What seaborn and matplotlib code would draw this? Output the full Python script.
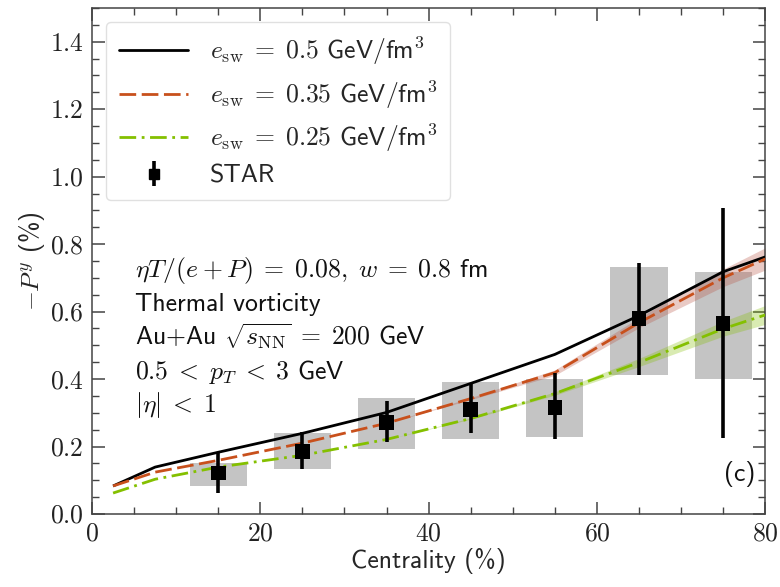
import numpy as np
import pandas as pd
import matplotlib
matplotlib.use("Agg")
import matplotlib.pyplot as plt
from matplotlib.ticker import MultipleLocator, FuncFormatter
from matplotlib.patches import Rectangle
from matplotlib.lines import Line2D
import seaborn as sns

# ---- hydro model curves: -P^y (%) vs centrality (%) ----
cent_model = [2.5, 7.5, 15, 25, 35, 45, 55, 65, 75, 80]
py_e050 = [0.083, 0.139, 0.183, 0.239, 0.301, 0.387, 0.473, 0.588, 0.718, 0.762]
py_e035 = [0.083, 0.124, 0.159, 0.210, 0.269, 0.342, 0.419, 0.567, 0.700, 0.756]
py_e025 = [0.062, 0.103, 0.139, 0.174, 0.221, 0.283, 0.357, 0.449, 0.549, 0.590]
err_e035 = [0.0, 0.0, 0.0, 0.0, 0.0, 0.003, 0.008, 0.015, 0.026, 0.033]
err_e025 = [0.0, 0.0, 0.0, 0.0, 0.0, 0.002, 0.005, 0.012, 0.022, 0.028]

# ---- STAR measurement ----
cent_star = [15, 25, 35, 45, 55, 65, 75]
py_star = [0.121, 0.186, 0.272, 0.310, 0.316, 0.579, 0.564]
stat_lo = [0.062, 0.133, 0.213, 0.239, 0.221, 0.413, 0.224]
stat_hi = [0.180, 0.242, 0.334, 0.387, 0.419, 0.744, 0.907]
sys_lo = [0.083, 0.133, 0.192, 0.222, 0.227, 0.413, 0.400]
sys_hi = [0.150, 0.239, 0.345, 0.390, 0.400, 0.732, 0.718]
sys_halfwidth = 3.4

labels = [r"$e_{\rm sw}\;=\;0.5$ GeV/fm$^3$",
          r"$e_{\rm sw}\;=\;0.35$ GeV/fm$^3$",
          r"$e_{\rm sw}\;=\;0.25$ GeV/fm$^3$"]
colors = ["#000000", "#c8501c", "#84c000"]

sns.set_theme(style="ticks")
plt.rcParams["mathtext.fontset"] = "cm"
plt.rcParams["font.family"] = ["cmss10"]
plt.rcParams["axes.unicode_minus"] = False

FS = 18.5
fig = plt.figure(figsize=(7.8, 5.87), dpi=100)
ax = fig.add_axes([0.118, 0.1244, 0.863, 0.862])

model = pd.DataFrame({
    "cent": cent_model * 3,
    "py": py_e050 + py_e035 + py_e025,
    "model": labels[0:1] * 10 + labels[1:2] * 10 + labels[2:3] * 10,
})

# systematic boxes
for x, lo, hi in zip(cent_star, sys_lo, sys_hi):
    ax.add_patch(Rectangle((x - sys_halfwidth, lo), 2 * sys_halfwidth, hi - lo,
                           facecolor="#c4c4c4", edgecolor="none", zorder=1))

# uncertainty bands on the model curves
c = np.array(cent_model)
ax.fill_between(c, np.array(py_e035) - err_e035, np.array(py_e035) + err_e035,
                color="#b85040", alpha=0.3, lw=0, zorder=2)
ax.fill_between(c, np.array(py_e025) - err_e025, np.array(py_e025) + err_e025,
                color="#84c000", alpha=0.3, lw=0, zorder=2)

sns.lineplot(data=model, x="cent", y="py", hue="model", style="model",
             hue_order=labels, style_order=labels, palette=colors,
             dashes=[(1, 0), (6, 2), (6, 2, 1, 2)], linewidth=2.0,
             ax=ax, legend=False, zorder=3)

# STAR points with statistical error bars
yerr = [np.array(py_star) - np.array(stat_lo), np.array(stat_hi) - np.array(py_star)]
ax.errorbar(cent_star, py_star, yerr=yerr, fmt="none", ecolor="black",
            elinewidth=2.6, capsize=0, zorder=4)
sns.scatterplot(x=cent_star, y=py_star, marker="s", s=110, color="black",
                edgecolor="none", ax=ax, zorder=5)

ax.set_xlim(0, 80)
ax.set_ylim(0, 1.5)
ax.xaxis.set_major_locator(MultipleLocator(20))
ax.xaxis.set_minor_locator(MultipleLocator(5))
ax.yaxis.set_major_locator(MultipleLocator(0.2))
ax.yaxis.set_minor_locator(MultipleLocator(0.05))
ax.xaxis.set_major_formatter(FuncFormatter(lambda v, p: rf"${v:.0f}$"))
ax.yaxis.set_major_formatter(FuncFormatter(lambda v, p: rf"${v:.1f}$"))
ax.tick_params(which="both", direction="in", top=True, right=True,
               color="#444444", labelsize=FS, labelcolor="#222222", pad=6)
ax.tick_params(which="major", length=9, width=1.1)
ax.tick_params(which="minor", length=5, width=1.0)
for s in ax.spines.values():
    s.set_color("#444444")
    s.set_linewidth(1.1)

ax.set_xlabel("Centrality (%)", fontsize=FS, labelpad=2)
ax.set_ylabel(r"$-P^y$ (%)", fontsize=FS, labelpad=2)

# legend
handles = [Line2D([], [], color=colors[0], lw=2.0),
           Line2D([], [], color=colors[1], lw=2.0, dashes=(6, 2)),
           Line2D([], [], color=colors[2], lw=2.0, dashes=(6, 2, 1, 2))]
star_h = ax.errorbar([], [], yerr=[], fmt="s", color="black", ms=7,
                     elinewidth=2.6, capsize=0)
leg = ax.legend(handles + [star_h], labels + ["STAR"],
                loc="upper left", fontsize=FS, handlelength=2.7,
                handletextpad=0.85, labelspacing=0.42, borderaxespad=0.55,
                borderpad=0.5, frameon=True, fancybox=True)
leg.get_frame().set_edgecolor("#dddddd")
leg.get_frame().set_alpha(0.9)

info = [r"$\eta T/(e+P)\;=\;0.08,\;w\;=\;0.8$ fm",
        "Thermal vorticity",
        r"Au+Au $\sqrt{s_{\rm NN}}\;=\;200$ GeV",
        r"$0.5\;<\;p_T\;<\;3$ GeV",
        r"$|\eta|\;<\;1$"]
for txt, yb in zip(info, [0.468, 0.401, 0.334, 0.267, 0.2016]):
    ax.text(0.064, yb, txt, transform=ax.transAxes, fontsize=FS,
            va="baseline", ha="left", color="#111111")

ax.text(0.985, 0.065, "(c)", transform=ax.transAxes, fontsize=FS,
        va="baseline", ha="right", color="#111111")

fig.savefig("out.png", dpi=100)
